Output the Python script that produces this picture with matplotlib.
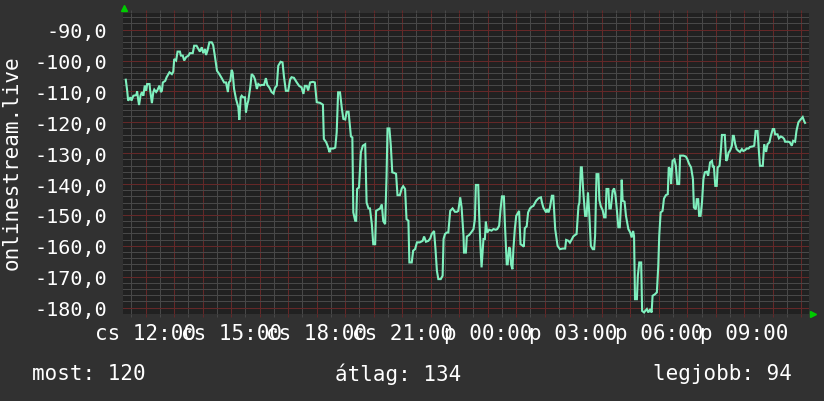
import matplotlib
matplotlib.use("Agg")
import matplotlib.pyplot as plt
from matplotlib.ticker import MultipleLocator, FuncFormatter

# ---------------- data (minutes after "cs 12:00", value) ----------------
minutes_a = [-42, -39, -37, -32, -30, -26, -20, -18, -16, -14,
             -11, -8, -5, -2, 1, 3, 8, 9, 13, 16,
             18, 22, 24, 29, 32, 34, 36, 41, 44, 50,
             55, 58, 60, 64, 67, 72, 74, 78, 81, 85,
             90, 93, 99, 102, 107, 111, 114, 118, 121, 125,
             127, 130, 134, 139, 142, 146, 150, 155, 160, 165,
             169, 173, 175, 178, 181, 183, 186, 190, 195, 197,
             200, 202, 205, 209, 211, 214, 216, 220, 223, 227,
             230, 234, 237, 241, 244, 249, 253, 256, 260, 265,
             269, 272, 276, 279, 284, 288, 291, 295, 300, 304,
             307, 312]
values_a = [-106.2, -109.8, -113.0, -111.9, -113.0, -111.4, -111.2, -110.0, -112.5, -114.4,
            -111.4, -110.2, -111.4, -108.1, -109.8, -107.6, -107.6, -109.2, -113.8, -110.2,
            -109.4, -110.2, -109.8, -108.1, -110.2, -109.8, -107.1, -106.6, -105.4, -103.8,
            -104.4, -103.6, -99.5, -100.0, -97.1, -97.1, -98.4, -98.4, -100.0, -98.9,
            -98.4, -97.6, -97.6, -95.2, -95.2, -96.3, -97.1, -95.7, -97.6, -96.3,
            -98.2, -96.8, -94.1, -94.1, -95.0, -99.0, -103.3, -104.4, -105.7, -107.1,
            -107.1, -110.2, -107.1, -106.6, -103.0, -103.9, -109.2, -112.4, -115.2, -119.2,
            -111.9, -111.4, -111.9, -111.9, -116.8, -114.1, -113.0, -108.7, -104.4, -105.0,
            -106.1, -109.2, -107.6, -108.1, -107.9, -107.9, -105.7, -107.9, -108.7, -110.2,
            -110.7, -108.9, -108.1, -101.7, -100.4, -100.6, -105.2, -109.8, -109.8, -106.1,
            -105.4, -105.6]

minutes_b = [318, 323, 328, 332, 335, 339, 342, 346, 352, 356,
             360, 367, 373, 375, 380, 383, 387, 389, 395, 399,
             402, 405, 409, 413, 416, 420, 423, 427, 432, 435,
             437, 441, 443, 445, 449, 453, 457, 462, 465, 469,
             472, 476, 479, 483, 485, 490, 493, 497, 500, 504,
             507, 509, 513, 516, 519, 523, 527, 530, 535, 539,
             542, 546, 549, 553, 555, 560, 563, 567, 571, 577,
             583, 586, 590, 595, 599, 602, 607, 610, 613, 616,
             621, 625, 627, 630, 634, 637, 641, 646, 651, 655,
             658, 662, 665]
values_b = [-107.1, -108.2, -108.7, -110.8, -108.2, -108.2, -109.7, -107.1, -106.9, -107.1,
            -113.5, -113.7, -114.3, -125.4, -126.5, -127.7, -129.7, -128.5, -128.5, -128.2,
            -123.3, -110.3, -110.3, -115.7, -118.9, -119.1, -116.6, -116.6, -124.6, -124.9,
            -149.2, -151.9, -151.9, -141.6, -141.1, -129.7, -127.6, -127.1, -146.0, -147.9,
            -147.9, -153.0, -159.5, -159.5, -148.7, -148.2, -148.0, -146.6, -152.0, -153.0,
            -137.3, -122.0, -122.0, -127.6, -136.2, -136.4, -136.7, -143.6, -143.6, -141.4,
            -140.7, -141.6, -151.4, -151.9, -165.4, -165.4, -161.6, -161.1, -158.9, -158.9,
            -158.4, -157.0, -158.7, -158.4, -157.6, -156.2, -155.2, -161.1, -168.1, -170.8,
            -170.8, -169.7, -157.8, -156.2, -155.7, -155.7, -148.7, -147.9, -149.0, -149.0,
            -148.7, -144.3, -147.6]

minutes_c = [669, 670, 674, 676, 681, 686, 690, 693, 695, 700,
             702, 705, 707, 711, 714, 716, 719, 723, 728, 732,
             737, 740, 744, 747, 750, 754, 756, 760, 762, 765,
             767, 769, 772, 774, 777, 780, 782, 786, 789, 794,
             796, 798, 802, 805, 809, 813, 816, 822, 827, 832,
             834, 837, 841, 843, 845, 848, 851, 855, 858, 862,
             867, 872, 878, 883, 885, 890, 893, 897, 900, 904,
             907, 911, 913, 916, 918, 921, 925, 928, 931, 934,
             937, 941, 944, 946, 949, 953, 955, 958, 962, 965,
             968, 970, 974, 976, 979, 983, 986, 989, 992, 995,
             998, 1001, 1002, 1004, 1008, 1011, 1016, 1020, 1023]
values_c = [-156.8, -162.2, -162.2, -157.0, -156.5, -155.5, -154.6, -151.4, -140.3, -140.3,
            -150.3, -161.1, -167.0, -157.8, -157.8, -152.2, -155.7, -154.8, -155.1, -154.6,
            -154.8, -154.6, -153.5, -148.1, -144.0, -144.0, -152.4, -166.0, -166.0, -160.5,
            -160.9, -166.0, -167.6, -161.1, -154.6, -150.3, -149.8, -148.7, -159.5, -160.0,
            -160.3, -154.3, -153.7, -149.2, -147.9, -147.3, -147.1, -145.4, -144.6, -144.3,
            -145.9, -147.6, -148.7, -149.2, -148.1, -149.2, -147.6, -143.8, -143.8, -154.6,
            -160.0, -161.1, -160.9, -160.9, -158.1, -158.4, -159.0, -157.9, -157.0, -156.5,
            -156.2, -147.1, -146.0, -134.6, -134.6, -142.2, -150.3, -150.3, -142.7, -150.3,
            -160.0, -161.1, -161.1, -156.8, -136.8, -136.8, -145.2, -147.2, -148.5, -150.8,
            -150.8, -141.6, -141.6, -147.9, -147.9, -142.2, -141.4, -143.8, -148.7, -154.0,
            -154.0, -144.9, -138.6, -145.4, -145.7, -150.3, -154.6, -155.7, -157.3]

minutes_d = [1026, 1028, 1030, 1034, 1036, 1039, 1043, 1045, 1049, 1055,
             1058, 1062, 1065, 1067, 1072, 1076, 1079, 1081, 1084, 1088,
             1091, 1095, 1099, 1101, 1104, 1106, 1109, 1113, 1116, 1119,
             1123, 1125, 1132, 1137, 1140, 1144, 1148, 1152, 1154, 1158,
             1160, 1163, 1165, 1168, 1171, 1174, 1177, 1181, 1184, 1188,
             1192, 1194, 1196, 1199, 1202, 1204, 1208, 1211, 1213, 1219,
             1222, 1224, 1227, 1230, 1234, 1236, 1238, 1241, 1244, 1248,
             1251, 1255, 1258, 1262, 1265, 1269, 1272, 1278, 1281, 1284,
             1288, 1290, 1293, 1299, 1302, 1306, 1309, 1313, 1316, 1320,
             1323, 1325, 1330, 1333, 1337, 1341, 1344, 1346, 1353, 1356,
             1360, 1363, 1367, 1370, 1374, 1377, 1381, 1383, 1386, 1388]
values_d = [-155.2, -156.8, -177.3, -177.3, -169.7, -165.4, -165.4, -181.1, -181.6, -180.5,
            -181.6, -180.5, -181.6, -176.2, -175.7, -175.1, -166.5, -156.8, -149.2, -148.7,
            -144.7, -143.6, -143.3, -134.6, -135.1, -140.0, -132.5, -132.0, -134.1, -140.0,
            -140.0, -130.8, -130.8, -131.1, -131.9, -133.5, -134.6, -138.4, -147.6, -148.2,
            -144.9, -144.9, -150.3, -150.3, -146.0, -138.4, -136.2, -136.0, -137.3, -133.0,
            -132.5, -134.6, -134.1, -140.6, -140.6, -134.6, -134.1, -128.7, -124.1, -124.1,
            -132.5, -132.0, -129.8, -129.2, -127.6, -124.4, -124.4, -127.1, -128.7, -129.3,
            -129.6, -128.7, -129.3, -129.0, -128.5, -128.5, -128.0, -127.8, -127.6, -122.8,
            -122.8, -127.6, -134.1, -134.1, -127.1, -129.6, -127.1, -126.5, -124.4, -122.2,
            -122.2, -123.9, -123.9, -125.2, -124.6, -124.9, -125.4, -126.3, -126.3, -126.5,
            -127.6, -126.0, -126.3, -122.7, -120.0, -119.4, -118.7, -118.3, -119.6, -120.2]

tick_labels = ["cs 12:00", "cs 15:00", "cs 18:00", "cs 21:00",
               "p 00:00", "p 03:00", "p 06:00", "p 09:00"]
y_label = "onlinestream.live"
stat_labels = ["most: 120", "átlag: 134", "legjobb: 94"]

minutes = minutes_a + minutes_b + minutes_c + minutes_d
values = values_a + values_b + values_c + values_d

# ---------------- style ----------------
plt.rcParams['font.family'] = ['DejaVu Sans Mono', 'DejaVu Sans']
BG = '#313131'
PLOT_BG = '#212121'
MINOR = '#484848'
MAJOR = '#652828'
LINE = '#7ff0be'
TXT = '#ffffff'
W, H = 824, 402

fig = plt.figure(figsize=(W / 100, H / 100), dpi=100, facecolor=BG)
L, R, T, B = 123.3, 809.0, 14.0, 315.0
ax = fig.add_axes([L / W, 1 - B / H, (R - L) / W, (B - T) / H])
ax.set_facecolor(PLOT_BG)
for s in ax.spines.values():
    s.set_visible(False)

ax.set_xlim(-47.2, 1396.3)
ax.set_ylim(-182.1, -84.6)

ax.xaxis.set_major_locator(MultipleLocator(60))
ax.xaxis.set_minor_locator(MultipleLocator(30))
ax.yaxis.set_major_locator(MultipleLocator(10))
ax.yaxis.set_minor_locator(MultipleLocator(2))


def xfmt(v, pos):
    k = int(round(v))
    if k % 180 == 0 and 0 <= k // 180 < len(tick_labels):
        return tick_labels[k // 180]
    return ''


ax.xaxis.set_major_formatter(FuncFormatter(xfmt))
ax.yaxis.set_major_formatter(FuncFormatter(lambda v, p: f"{v:.1f}".replace('.', ',')))

dots = (0, (1, 1))
ax.grid(which='minor', color=MINOR, linestyle=dots, linewidth=0.72, antialiased=False)
ax.grid(which='major', color=MAJOR, linestyle=dots, linewidth=0.72, antialiased=False)
ax.set_axisbelow(True)

ax.tick_params(axis='x', which='major', length=2, width=0.72, color=MAJOR,
               top=True, pad=4.5, labelsize=15, labelcolor=TXT)
ax.tick_params(axis='x', which='minor', length=2, width=0.72, color=MINOR, top=True)
ax.tick_params(axis='y', which='both', length=0, pad=11.5, labelsize=14.5, labelcolor=TXT)

ax.plot(minutes, values, color=LINE, linewidth=1.5, solid_joinstyle='miter', zorder=3)

fig.text(12 / W, 1 - 163 / H, y_label, rotation=90, ha='center', va='center',
         fontsize=15, color=TXT)
fig.text(32 / W, 1 - 374 / H, stat_labels[0], ha='left', va='center', fontsize=15, color=TXT)
fig.text(398 / W, 1 - 374 / H, stat_labels[1], ha='center', va='center', fontsize=15, color=TXT)
fig.text(792 / W, 1 - 374 / H, stat_labels[2], ha='right', va='center', fontsize=15, color=TXT)

# axis arrows
fig.lines.append(plt.Line2D([124 / W], [1 - 9 / H], marker='^', markersize=5, color='#00cc00',
                            linestyle='none', transform=fig.transFigure))
fig.lines.append(plt.Line2D([813 / W], [1 - 315 / H], marker='>', markersize=5, color='#00cc00',
                            linestyle='none', transform=fig.transFigure))

fig.savefig('out.png', dpi=100, facecolor=BG)
